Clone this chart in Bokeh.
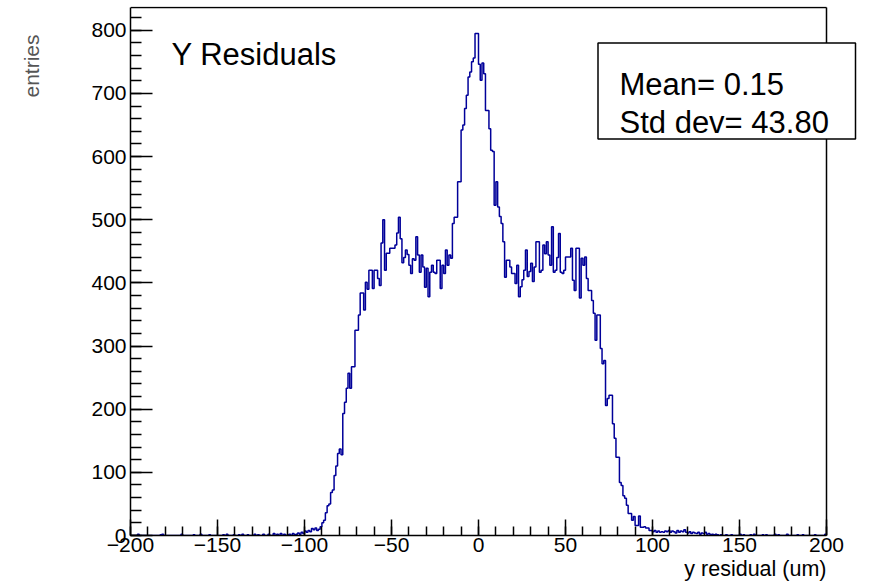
import numpy as np
from bokeh.plotting import figure
from bokeh.models import Range1d, FixedTicker, Label, BoxAnnotation, Title
from bokeh.embed import file_html
from bokeh.resources import INLINE

# ---------------- data ----------------
x_lo, x_hi = -200, 200
bin_width = 1
y_hi = 836

core_first_bin = -110
core_counts = [
    # -110 .. -101
    1, 2, 0, 3, 1, 2, 4, 2, 5, 3,
    # -100 .. -91
    7, 5, 8, 6, 11, 9, 12, 8, 10, 14,
    # -90 .. -81
    20, 24, 36, 47, 50, 68, 72, 95, 110, 130,
    # -80 .. -71
    137, 128, 193, 211, 233, 257, 233, 267, 267, 325,
    # -70 .. -61
    325, 349, 384, 384, 357, 401, 390, 420, 420, 391,
    # -60 .. -51
    420, 420, 407, 396, 463, 500, 420, 447, 447, 455,
    # -50 .. -41
    455, 455, 460, 479, 504, 470, 432, 440, 452, 445,
    # -40 .. -31
    428, 415, 438, 436, 473, 444, 417, 444, 425, 393,
    # -30 .. -21
    423, 378, 417, 428, 417, 415, 436, 436, 391, 428,
    # -20 .. -11
    415, 452, 428, 444, 439, 494, 504, 504, 560, 560,
    # -10 .. -1
    642, 650, 676, 697, 726, 734, 750, 756, 795, 795,
    # 0 .. 9
    746, 721, 748, 731, 673, 673, 644, 610, 608, 523,
    # 10 .. 19
    560, 520, 505, 494, 465, 409, 436, 436, 425, 415,
    # 20 .. 29
    415, 399, 428, 378, 394, 405, 420, 452, 410, 418,
    # 30 .. 39
    431, 402, 425, 465, 465, 417, 420, 460, 446, 465,
    # 40 .. 49
    444, 428, 489, 417, 420, 440, 478, 417, 415, 420,
    # 50 .. 59
    441, 441, 441, 455, 404, 388, 455, 455, 376, 439,
    # 60 .. 69
    428, 441, 407, 388, 388, 372, 352, 309, 349, 349,
    # 70 .. 79
    296, 272, 277, 206, 217, 222, 222, 177, 154, 124,
    # 80 .. 89
    124, 84, 79, 63, 59, 48, 35, 35, 24, 30,
    # 90 .. 99
    16, 16, 31, 13, 13, 14, 12, 12, 8, 8,
    # 100 .. 109
    6, 8, 5, 7, 5, 6, 5, 7, 6, 8,
    # 110 .. 119
    5, 7, 6, 4, 8, 5, 7, 6, 9, 5,
    # 120 .. 129
    4, 6, 3, 5, 4, 3, 5, 2, 4, 3,
    # 130 .. 139
    5, 2, 3, 1, 2, 1, 2, 1, 0, 1,
]

tail_bins = [-196, -183, -182, -171, -164, -160, -155, -147, -145, -141, -138,
             -136, -133, -129, -127, -124, -121, -118, -116, -114, -112,
             142, 145, 150, 152, 156, 158, 163, 165, 170, 172, 177, 183, 186,
             193, 199]
tail_counts = [2, 1, 2, 2, 1, 2, 1, 1, 2, 1, 1,
               2, 1, 2, 1, 2, 2, 3, 2, 3, 2,
               1, 1, 2, 1, 1, 2, 1, 1, 2, 1, 2, 1, 1,
               1, 2]

x_ticks = [-200, -150, -100, -50, 0, 50, 100, 150, 200]
x_tick_labels = ["\u2212200", "\u2212150", "\u2212100", "\u221250", "0",
                 "50", "100", "150", "200"]
y_ticks = [0, 100, 200, 300, 400, 500, 600, 700, 800]
y_tick_labels = ["0", "100", "200", "300", "400", "500", "600", "700", "800"]

title_text = "Y Residuals"
stats_lines = ["Mean= 0.15", "Std dev= 43.80"]
x_title = "y residual (um)"
y_title = "entries"

# ---------------- build histogram ----------------
edges = np.arange(x_lo, x_hi + bin_width, bin_width)
counts = np.zeros(len(edges) - 1)
i0 = (core_first_bin - x_lo) // bin_width
counts[i0:i0 + len(core_counts)] = core_counts
for b, c in zip(tail_bins, tail_counts):
    counts[(b - x_lo) // bin_width] = c
step_y = np.append(counts, counts[-1])

# ---------------- layout ----------------
W, H = 869, 583
FL, FR, FT, FB = 130, 826, 7, 535     # drawn histogram frame (pixels)
CANVAS_TOP = 6                        # bokeh frame top (1px above drawn frame)

px_x = (FR - FL) / (x_hi - x_lo)
px_y = (FB - FT) / y_hi
x_end = x_hi + (W - FR) / px_x        # bokeh frame reaches the right canvas edge
y_end = y_hi + (FT - CANVAS_TOP) / px_y


def dx(px):
    return x_lo + (px - FL) / px_x


def dy(py):
    return (FB - py) / px_y


FONT = "Liberation Sans"

p = figure(width=W, height=H, output_backend="svg", toolbar_location=None,
           x_range=Range1d(x_lo, x_end), y_range=Range1d(0, y_end),
           min_border_left=FL, min_border_right=0,
           min_border_top=CANVAS_TOP, min_border_bottom=H - FB)
p.background_fill_color = "white"
p.border_fill_color = "white"
p.outline_line_color = None
p.xgrid.visible = False
p.ygrid.visible = False

p.step(edges, step_y, mode="after", line_color="#000099", line_width=1.5)

# frame top and right edges
p.segment(x0=[x_lo, x_hi], y0=[y_hi, 0], x1=[x_hi, x_hi], y1=[y_hi, y_hi],
          line_color="black", line_width=1.5)

# axes
xa = p.xaxis[0]
xa.bounds = (x_lo, x_hi)
xa.ticker = FixedTicker(ticks=x_ticks, minor_ticks=list(range(x_lo, x_hi + 1, 10)))
xa.major_label_overrides = {t: l for t, l in zip(x_ticks, x_tick_labels)}
xa.major_tick_in = 16
xa.major_tick_out = 0
xa.minor_tick_in = 9
xa.minor_tick_out = 0
xa.major_label_standoff = 2
ya = p.yaxis[0]
ya.bounds = (0, y_hi)
ya.ticker = FixedTicker(ticks=y_ticks, minor_ticks=list(range(0, y_hi, 20)))
ya.major_label_overrides = {t: l for t, l in zip(y_ticks, y_tick_labels)}
ya.major_tick_in = 22
ya.major_tick_out = 0
ya.minor_tick_in = 11
ya.minor_tick_out = 0
ya.major_label_standoff = 4
# blank spacer label: pushes the "entries" title further out to the left
ya.axis_label = " "
ya.axis_label_text_font_size = "2px"
ya.axis_label_standoff = 41
for ax in (xa, ya):
    ax.axis_line_color = "black"
    ax.axis_line_width = 1.5
    ax.major_tick_line_color = "black"
    ax.major_tick_line_width = 1.5
    ax.minor_tick_line_color = "black"
    ax.minor_tick_line_width = 1.5
    ax.major_label_text_font = FONT
    ax.major_label_text_font_size = "21px"
    ax.major_label_text_color = "black"

# axis titles (side-panel titles so they are not clipped by the frame)
xt = Title(text=x_title, align="right", offset=W - FR, text_font=FONT,
           text_font_size="21.5px", text_font_style="normal", text_color="black")
yt = Title(text=y_title, align="right", offset=34 - CANVAS_TOP, text_font=FONT,
           text_font_size="21px", text_font_style="normal", text_color="#555555")
if "standoff" in Title.properties():
    xt.standoff = 0
    yt.standoff = 0
p.add_layout(xt, "below")
p.add_layout(yt, "left")

# title inside frame
p.add_layout(Label(x=dx(171), y=dy(53.5), text=title_text, text_align="left",
                   text_baseline="alphabetic", text_font=FONT,
                   text_font_size="31px", text_color="black"))

# stats box
p.add_layout(BoxAnnotation(left=dx(597.5), right=dx(855), top=dy(42.5), bottom=dy(138.5),
                           fill_color="white", fill_alpha=1.0,
                           line_color="black", line_alpha=1.0, line_width=1.5,
                           level="overlay"))
p.add_layout(Label(x=dx(619), y=dy(83.5), text=stats_lines[0], text_align="left",
                   text_baseline="alphabetic", text_font=FONT,
                   text_font_size="31px", text_color="black", level="overlay"))
p.add_layout(Label(x=dx(619), y=dy(121.5), text=stats_lines[1], text_align="left",
                   text_baseline="alphabetic", text_font=FONT,
                   text_font_size="31px", text_color="black", level="overlay"))

open("out.html", "w").write(file_html(p, INLINE))
